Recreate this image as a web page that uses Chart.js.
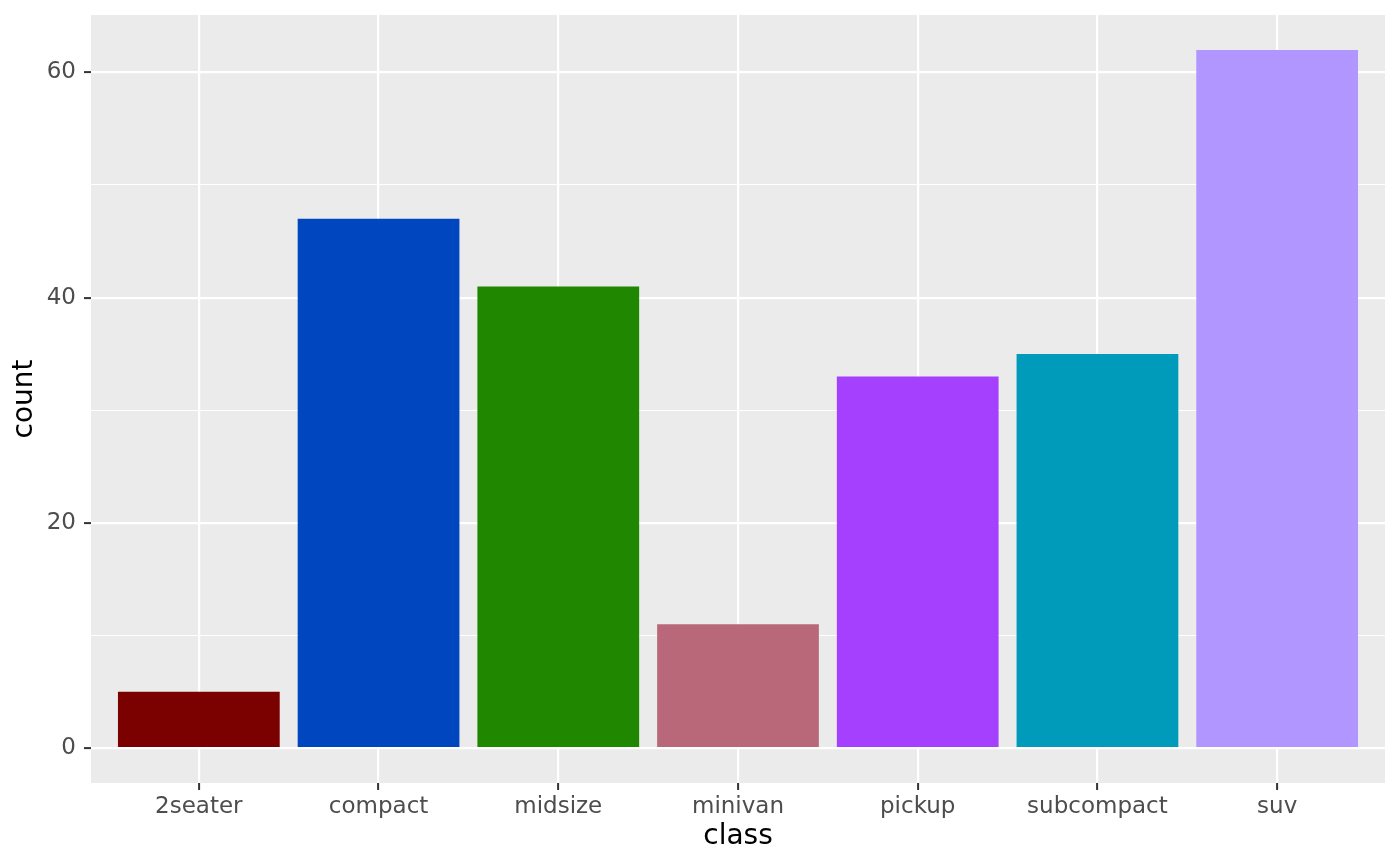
<!DOCTYPE html>
<html>
<head>
<meta charset="utf-8">
<script src="https://cdn.jsdelivr.net/npm/chart.js@4/dist/chart.umd.min.js"></script>
<style>
html,body{margin:0;padding:0;background:#fff;}
canvas{display:block;}
</style>
</head>
<body>
<canvas id="c" width="1400" height="866"></canvas>
<script>
const categories = ["2seater","compact","midsize","minivan","pickup","subcompact","suv"];
const counts = [5,47,41,11,33,35,62];
const barColors = ["#7B0000","#0047BF","#1F8800","#B86878","#A640FF","#009BBB","#B196FF"];
const yTicks = [0,10,20,30,40,50,60];
const yLabelStep = 20;

const bgPlugin = {
  id:'panelBg',
  beforeDraw(chart){
    const {ctx, chartArea:a} = chart;
    ctx.save();
    ctx.fillStyle = '#EBEBEB';
    ctx.fillRect(a.left, a.top, a.right-a.left, a.bottom-a.top);
    ctx.restore();
  }
};

const FONT = "'DejaVu Sans', sans-serif";

new Chart(document.getElementById('c'), {
  type:'bar',
  data:{
    datasets:[{
      data: categories.map((c,i)=>({x:i+1, y:counts[i]})),
      backgroundColor: barColors,
      borderWidth:0,
      categoryPercentage:1.0,
      barPercentage:0.9
    }]
  },
  options:{
    responsive:false,
    animation:false,
    devicePixelRatio:1,
    layout:{padding:{left:0, top:15, right:15, bottom:0}},
    plugins:{legend:{display:false}, tooltip:{enabled:false}},
    scales:{
      x:{
        type:'linear',
        min:0.4, max:7.6,
        offset:false,
        afterBuildTicks(s){ s.ticks = categories.map((c,i)=>({value:i+1})); },
        afterFit(s){ s.height = 83; s.paddingLeft = 0; s.paddingRight = 0; },
        border:{display:false},
        grid:{offset:false, color:'#FFFFFF', lineWidth:2.2, drawTicks:true, tickLength:7, tickColor:'#333333', tickWidth:2},
        ticks:{
          autoSkip:false, maxRotation:0, padding:3,
          color:'#4D4D4D', font:{family:FONT, size:23},
          callback:(v)=>categories[Math.round(v)-1] ?? ''
        },
        title:{display:true, text:'class', color:'#000000', font:{family:FONT, size:28}, padding:{top:0,bottom:12}}
      },
      y:{
        type:'linear',
        min:-3.1, max:65.1,
        afterBuildTicks(s){ s.ticks = yTicks.map(v=>({value:v})); },
        afterFit(s){ s.width = 91; s.paddingTop = 0; s.paddingBottom = 0; },
        border:{display:false},
        grid:{
          color:'#FFFFFF',
          lineWidth:(ctx)=> (ctx.tick && ctx.tick.value % yLabelStep === 0) ? 2.2 : 1.1,
          drawTicks:true, tickLength:7,
          tickColor:(ctx)=> (ctx.tick && ctx.tick.value % yLabelStep === 0) ? '#333333' : 'rgba(0,0,0,0)',
          tickWidth:2
        },
        ticks:{
          autoSkip:false, padding:8,
          color:'#4D4D4D', font:{family:FONT, size:23},
          callback:(v)=> (v % yLabelStep === 0) ? String(v) : ''
        },
        title:{display:true, text:'count', color:'#000000', font:{family:FONT, size:28}, padding:{top:8,bottom:0}}
      }
    }
  },
  plugins:[bgPlugin]
});
</script>
</body>
</html>
